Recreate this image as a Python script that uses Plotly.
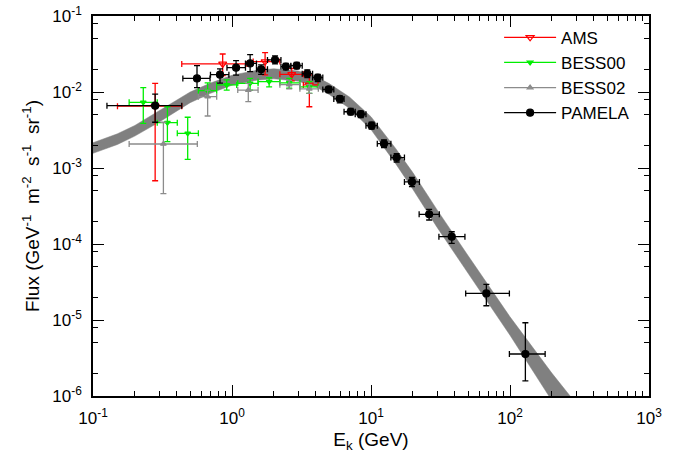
import plotly.graph_objects as go

# ---------------- data ----------------
# PAMELA
pam_E = [0.28, 0.56, 0.82, 1.07, 1.35, 1.62, 2.04, 2.44, 2.92, 3.48, 4.14, 4.96, 5.96, 7.14,
         8.44, 10.1, 12.4, 15.3, 19.7, 26.2, 38.1, 67.6, 129]
pam_E_lo = [0.126, 0.443, 0.70, 0.92, 1.25, 1.50, 1.80, 2.25, 2.65, 3.20, 3.80, 4.50, 5.40, 6.40,
            7.70, 9.20, 11.1, 13.9, 17.4, 22.2, 30.8, 48.0, 99.0]
pam_E_hi = [0.435, 0.695, 0.95, 1.25, 1.50, 1.80, 2.25, 2.65, 3.20, 3.80, 4.50, 5.40, 6.40, 7.70,
            9.20, 11.1, 13.9, 17.4, 22.3, 31.0, 47.4, 99.0, 179]
pam_F = [6.6e-3, 1.51e-2, 1.69e-2, 2.09e-2, 2.38e-2, 1.99e-2, 2.64e-2, 2.16e-2, 2.22e-2, 1.74e-2,
         1.55e-2, 1.08e-2, 8.1e-3, 5.5e-3, 5.1e-3, 3.6e-3, 2.09e-3, 1.37e-3, 6.55e-4, 2.46e-4,
         1.25e-4, 2.24e-5, 3.57e-6]
pam_F_hi = [9.4e-3, 2.22e-2, 2.01e-2, 2.58e-2, 3.1e-2, 2.27e-2, 2.98e-2, 2.38e-2, 2.45e-2, 1.95e-2,
            1.71e-2, 1.17e-2, 8.9e-3, 6.1e-3, 5.6e-3, 4.0e-3, 2.35e-3, 1.55e-3, 7.5e-4, 2.86e-4,
            1.45e-4, 2.95e-5, 9.2e-6]
pam_F_lo = [4.0e-3, 1.14e-2, 1.31e-2, 1.67e-2, 1.85e-2, 1.71e-2, 2.34e-2, 1.95e-2, 2.01e-2, 1.55e-2,
            1.37e-2, 9.8e-3, 7.2e-3, 5.0e-3, 4.6e-3, 3.25e-3, 1.85e-3, 1.2e-3, 5.7e-4, 2.07e-4,
            1.02e-4, 1.54e-5, 1.58e-6]

# AMS
ams_E = [0.28, 0.857, 1.73, 2.69, 3.6]
ams_E_lo = [0.150, 0.435, 1.42, 2.21, 3.26]
ams_E_hi = [0.435, 1.28, 2.21, 3.26, 4.16]
ams_F = [6.5e-3, 2.34e-2, 2.51e-2, 1.71e-2, 1.24e-2]
ams_F_hi = [1.3e-2, 3.16e-2, 3.29e-2, 2.05e-2, 1.68e-2]
ams_F_lo = [6.8e-4, 1.64e-2, 1.68e-2, 1.4e-2, 6.4e-3]

# BESS00
b00_E = [0.230, 0.343, 0.480, 0.668, 0.916, 1.35, 1.85, 2.58, 3.6]
b00_E_lo = [0.182, 0.290, 0.404, 0.573, 0.776, 1.10, 1.54, 2.21, 3.08]
b00_E_hi = [0.290, 0.404, 0.573, 0.776, 1.08, 1.54, 2.21, 3.08, 4.18]
b00_F = [7.31e-3, 3.95e-3, 2.86e-3, 1.04e-2, 1.24e-2, 1.30e-2, 1.37e-2, 1.32e-2, 1.17e-2]
b00_F_hi = [1.14e-2, 6.4e-3, 4.65e-3, 1.32e-2, 1.44e-2, 1.51e-2, 1.54e-2, 1.51e-2, 1.37e-2]
b00_F_lo = [3.87e-3, 2.22e-3, 1.3e-3, 8.67e-3, 1.06e-2, 1.06e-2, 1.17e-2, 1.12e-2, 9.6e-3]

# BESS02
b02_E = [0.321, 0.668, 1.31, 2.58, 3.6]
b02_E_lo = [0.182, 0.573, 1.10, 2.21, 3.08]
b02_E_hi = [0.563, 0.776, 1.54, 3.08, 4.18]
b02_F = [2.07e-3, 8.67e-3, 1.06e-2, 1.25e-2, 1.10e-2]
b02_F_hi = [4.0e-3, 1.06e-2, 1.30e-2, 1.42e-2, 1.25e-2]
b02_F_lo = [4.6e-4, 4.83e-3, 7.45e-3, 1.1e-2, 9.6e-3]

# model band
band_E = [0.1, 0.15, 0.2, 0.3, 0.5, 0.7, 1.0, 1.5, 2.0, 3.0, 4.0, 5.0, 7.0, 10, 15, 20, 30,
          50, 100, 200, 300]
band_hi = [2.15e-3, 2.82e-3, 3.63e-3, 5.69e-3, 1.0e-2, 1.31e-2, 1.66e-2, 1.93e-2, 2.02e-2, 1.89e-2,
           1.6e-2, 1.29e-2, 8.6e-3, 4.73e-3, 1.82e-3, 8.7e-4, 2.79e-4, 7.0e-5, 1.1e-5, 2.0e-6, 7.9e-7]
band_lo = [1.56e-3, 2.04e-3, 2.63e-3, 4.03e-3, 7.24e-3, 9.6e-3, 1.23e-2, 1.43e-2, 1.49e-2, 1.39e-2,
           1.17e-2, 9.3e-3, 6.1e-3, 3.2e-3, 1.15e-3, 5.25e-4, 1.64e-4, 4.12e-5, 6.3e-6, 8.7e-7, 2.9e-7]

# axis ticks
x_major = [0.1, 1, 10, 100, 1000]
x_major_text = ['10<sup>-1</sup>', '10<sup>0</sup>', '10<sup>1</sup>', '10<sup>2</sup>', '10<sup>3</sup>']
y_major = [1e-6, 1e-5, 1e-4, 1e-3, 1e-2, 1e-1]
y_major_text = ['10<sup>-6</sup>', '10<sup>-5</sup>', '10<sup>-4</sup>', '10<sup>-3</sup>',
                '10<sup>-2</sup>', '10<sup>-1</sup>']
x_minor_mult = [2, 3, 4, 5, 6, 7, 8, 9]
y_minor_mult = [2, 5, 8]

x_minor = [m * d for d in x_major[:-1] for m in x_minor_mult]
y_minor = [m * d for d in y_major[:-1] for m in y_minor_mult]


def errs(v, lo, hi):
    return dict(type='data', symmetric=False,
                array=[h - c for c, h in zip(v, hi)],
                arrayminus=[c - l for c, l in zip(v, lo)])


fig = go.Figure()

# band
fig.add_trace(go.Scatter(
    x=band_E + band_E[::-1], y=band_hi + band_lo[::-1],
    mode='lines', fill='toself', fillcolor='rgb(128,128,128)',
    line=dict(color='rgb(128,128,128)', width=0.5), showlegend=False, hoverinfo='skip'))

series = [
    ('AMS', '#ff0000', 'triangle-down-open', 7, ams_E, ams_E_lo, ams_E_hi, ams_F, ams_F_lo, ams_F_hi),
    ('BESS00', '#00ee00', 'triangle-down', 5, b00_E, b00_E_lo, b00_E_hi, b00_F, b00_F_lo, b00_F_hi),
    ('BESS02', '#8c8c8c', 'triangle-up', 5, b02_E, b02_E_lo, b02_E_hi, b02_F, b02_F_lo, b02_F_hi),
    ('PAMELA', '#000000', 'circle', 7, pam_E, pam_E_lo, pam_E_hi, pam_F, pam_F_lo, pam_F_hi),
]

for name, col, sym, size, E, Elo, Ehi, F, Flo, Fhi in series:
    ex = errs(E, Elo, Ehi)
    ex.update(color=col, thickness=1.3, width=3)
    ey = errs(F, Flo, Fhi)
    ey.update(color=col, thickness=1.3, width=3)
    fig.add_trace(go.Scatter(
        x=E, y=F, mode='markers', name=name, showlegend=False,
        marker=dict(symbol=sym, size=size, color=col, line=dict(color=col, width=1.2)),
        error_x=ex, error_y=ey))

# legend entries
for name, col, sym, size, *_ in series:
    fig.add_trace(go.Scatter(
        x=[None], y=[None], mode='lines+markers', name=name,
        line=dict(color=col, width=1.3),
        marker=dict(symbol=sym, size=size, color=col, line=dict(color=col, width=1.2))))

axis_common = dict(
    type='log', showline=True, linecolor='black', linewidth=1.5, mirror='ticks',
    ticks='inside', ticklen=11, tickwidth=1.3, tickcolor='black',
    showgrid=False, zeroline=False, tickfont=dict(size=17, color='black'),
    ticklabelstandoff=6, automargin=False, ticklabeloverflow='allow',
)

fig.update_xaxes(
    **axis_common, range=[-1, 3], tickmode='array', tickvals=x_major, ticktext=x_major_text,
    minor=dict(tickmode='array', tickvals=x_minor, ticks='inside', ticklen=5.5, tickwidth=1.2,
               tickcolor='black', showgrid=False),
    title=dict(text='E<sub>k</sub> (GeV)', font=dict(size=19, color='black'), standoff=6))
fig.update_yaxes(
    **axis_common, range=[-6, -1], tickmode='array', tickvals=y_major, ticktext=y_major_text,
    minor=dict(tickmode='array', tickvals=y_minor, ticks='inside', ticklen=5.5, tickwidth=1.2,
               tickcolor='black', showgrid=False),
    title=dict(text='Flux (GeV<sup>-1</sup>\u00a0 m<sup>-2</sup>\u00a0 s<sup>-1</sup>\u00a0 sr<sup>-1</sup>)',
               font=dict(size=19, color='black'), standoff=8))

fig.update_layout(
    width=688, height=460,
    margin=dict(l=93, r=39, t=16, b=64, autoexpand=False),
    paper_bgcolor='white', plot_bgcolor='white',
    font=dict(family='Liberation Sans, Arial, sans-serif', color='black'),
    legend=dict(x=0.975, y=0.99, xanchor='right', yanchor='top', bgcolor='rgba(0,0,0,0)',
                font=dict(size=17), tracegroupgap=0, itemwidth=52),
)

# remove the default 8 px page margin so the figure fills the window exactly
fig.write_html('out.html', config={'displayModeBar': False},
               post_script="document.body.style.margin='0px';")
